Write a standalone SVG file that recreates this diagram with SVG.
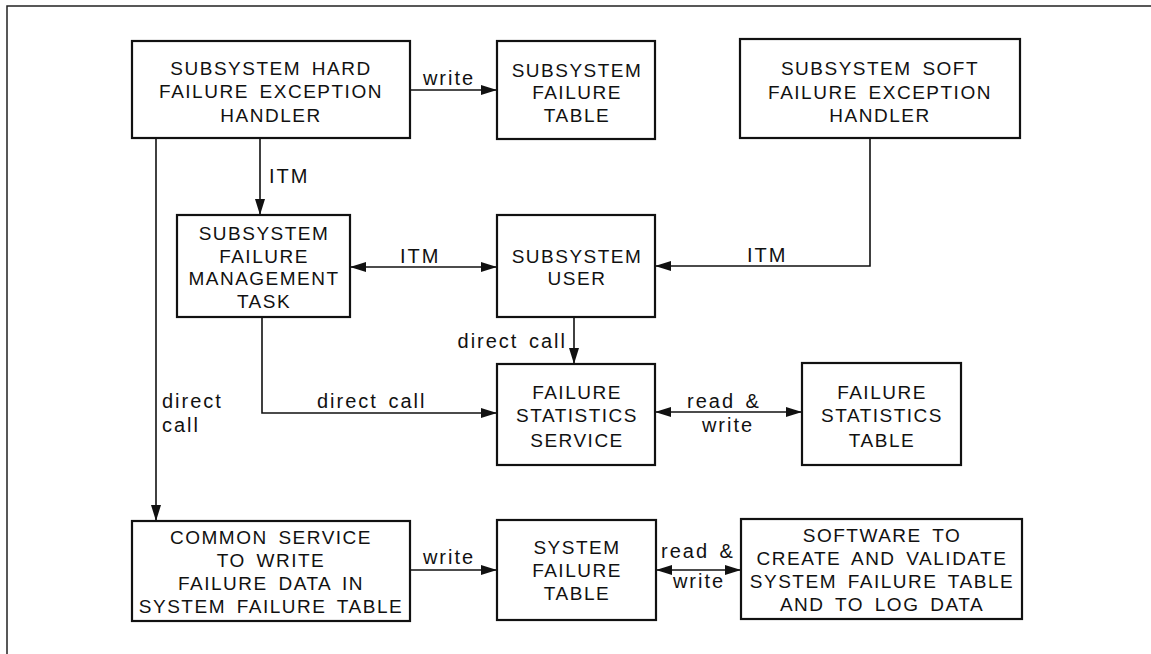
<svg xmlns="http://www.w3.org/2000/svg" width="1151" height="654" viewBox="0 0 1151 654">
<style>
.box{fill:#fff;stroke:#111;stroke-width:2.2}
.t{font-family:"Liberation Sans",Arial,sans-serif;font-size:19px;letter-spacing:1.5px;word-spacing:4px;text-anchor:middle;fill:#111}
.l{font-family:"Liberation Sans",Arial,sans-serif;font-size:20px;letter-spacing:2px;word-spacing:3px;fill:#111}
.c{fill:none;stroke:#111;stroke-width:1.6}
.frame{fill:none;stroke:#222;stroke-width:1.5}
</style>
<defs>
<marker id="ah" markerUnits="userSpaceOnUse" markerWidth="16" markerHeight="10" refX="16" refY="5" orient="auto-start-reverse">
<path d="M0,0 L16,5 L0,10 z" fill="#111"/>
</marker>
</defs>
<rect width="1151" height="654" fill="#fff"/>
<path class="frame" d="M7,654 L7,6 L1151,6"/>

<g id="connectors">
<path class="c" d="M410,90 L497,90" marker-end="url(#ah)"/>
<path class="c" d="M260,138 L260,215" marker-end="url(#ah)"/>
<path class="c" d="M156,138 L156,521" marker-end="url(#ah)"/>
<path class="c" d="M350,267 L497,267" marker-start="url(#ah)" marker-end="url(#ah)"/>
<path class="c" d="M870,138 L870,266 L655,266" marker-end="url(#ah)"/>
<path class="c" d="M574,317 L574,364" marker-end="url(#ah)"/>
<path class="c" d="M262,317 L262,413 L497,413" marker-end="url(#ah)"/>
<path class="c" d="M655,412 L802,412" marker-start="url(#ah)" marker-end="url(#ah)"/>
<path class="c" d="M410,570 L497,570" marker-end="url(#ah)"/>
<path class="c" d="M656,570 L741,570" marker-start="url(#ah)" marker-end="url(#ah)"/>
<text class="l" x="449" y="85" text-anchor="middle">write</text>
<text class="l" x="269" y="183">ITM</text>
<text class="l" x="162" y="408">direct</text>
<text class="l" x="162" y="432">call</text>
<text class="l" x="400" y="263">ITM</text>
<text class="l" x="747" y="262">ITM</text>
<text class="l" x="567" y="348" text-anchor="end">direct call</text>
<text class="l" x="317" y="408">direct call</text>
<text class="l" x="724" y="408" text-anchor="middle">read &amp;</text>
<text class="l" x="728" y="432" text-anchor="middle">write</text>
<text class="l" x="449" y="564" text-anchor="middle">write</text>
<text class="l" x="698" y="558" text-anchor="middle">read &amp;</text>
<text class="l" x="699" y="588" text-anchor="middle">write</text>
</g>

<g id="hard-handler">
<rect class="box" x="132" y="41" width="278" height="97"/>
<text class="t" x="271" y="75">SUBSYSTEM HARD</text>
<text class="t" x="271" y="98">FAILURE EXCEPTION</text>
<text class="t" x="271" y="122">HANDLER</text>
</g>
<g id="subsystem-failure-table">
<rect class="box" x="497" y="41" width="158" height="98"/>
<text class="t" x="577" y="77">SUBSYSTEM</text>
<text class="t" x="577" y="99">FAILURE</text>
<text class="t" x="577" y="122">TABLE</text>
</g>
<g id="soft-handler">
<rect class="box" x="740" y="39" width="280" height="99"/>
<text class="t" x="880" y="75">SUBSYSTEM SOFT</text>
<text class="t" x="880" y="99">FAILURE EXCEPTION</text>
<text class="t" x="880" y="122">HANDLER</text>
</g>
<g id="failure-management-task">
<rect class="box" x="177" y="215" width="173" height="102"/>
<text class="t" x="264" y="240">SUBSYSTEM</text>
<text class="t" x="264" y="263">FAILURE</text>
<text class="t" x="264" y="285">MANAGEMENT</text>
<text class="t" x="264" y="308">TASK</text>
</g>
<g id="subsystem-user">
<rect class="box" x="497" y="215" width="158" height="102"/>
<text class="t" x="577" y="263">SUBSYSTEM</text>
<text class="t" x="577" y="285">USER</text>
</g>
<g id="failure-statistics-service">
<rect class="box" x="497" y="364" width="158" height="101"/>
<text class="t" x="577" y="399">FAILURE</text>
<text class="t" x="577" y="422">STATISTICS</text>
<text class="t" x="577" y="447">SERVICE</text>
</g>
<g id="failure-statistics-table">
<rect class="box" x="802" y="363" width="159" height="102"/>
<text class="t" x="882" y="399">FAILURE</text>
<text class="t" x="882" y="422">STATISTICS</text>
<text class="t" x="882" y="447">TABLE</text>
</g>
<g id="common-service">
<rect class="box" x="132" y="521" width="278" height="100"/>
<text class="t" x="271" y="544">COMMON SERVICE</text>
<text class="t" x="271" y="567">TO WRITE</text>
<text class="t" x="271" y="590">FAILURE DATA IN</text>
<text class="t" x="271" y="613">SYSTEM FAILURE TABLE</text>
</g>
<g id="system-failure-table">
<rect class="box" x="497" y="520" width="159" height="100"/>
<text class="t" x="577" y="554">SYSTEM</text>
<text class="t" x="577" y="577">FAILURE</text>
<text class="t" x="577" y="600">TABLE</text>
</g>
<g id="software">
<rect class="box" x="741" y="519" width="281" height="100"/>
<text class="t" x="882" y="542">SOFTWARE TO</text>
<text class="t" x="882" y="565">CREATE AND VALIDATE</text>
<text class="t" x="882" y="588">SYSTEM FAILURE TABLE</text>
<text class="t" x="882" y="611">AND TO LOG DATA</text>
</g>
</svg>
